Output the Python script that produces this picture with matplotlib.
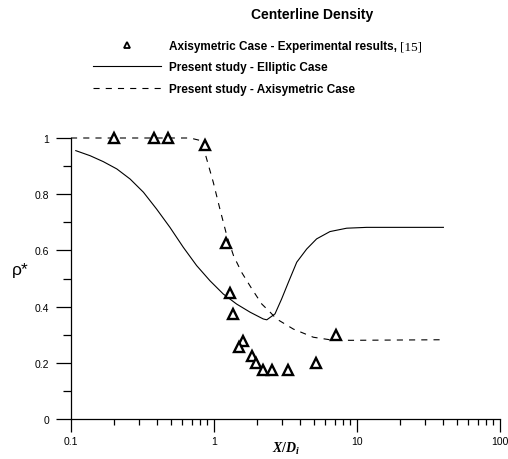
import numpy as np
import matplotlib
matplotlib.use('Agg')
import matplotlib.pyplot as plt
from matplotlib.lines import Line2D
from matplotlib.ticker import FixedLocator, FuncFormatter, LogLocator

plt.rcParams['font.family'] = ['Liberation Sans', 'DejaVu Sans']
plt.rcParams['mathtext.fontset'] = 'custom'
plt.rcParams['mathtext.it'] = 'Liberation Serif:italic:bold'
plt.rcParams['mathtext.rm'] = 'Liberation Serif:bold'

# experimental points (axisymmetric case, ref [15])
exp_x = [0.2, 0.38, 0.476, 0.865, 1.21, 1.29, 1.36, 1.60, 1.50, 1.85, 1.97, 2.2, 2.55, 3.29, 5.16, 7.13]
exp_y = [1.0, 1.0, 1.0, 0.975, 0.625, 0.45, 0.375, 0.278, 0.255, 0.225, 0.2, 0.175, 0.175, 0.175, 0.2, 0.3]

# present study - elliptic case
ell_x = [0.108, 0.136, 0.168, 0.209, 0.259, 0.321, 0.397, 0.492, 0.610, 0.756, 0.937,
         1.16, 1.44, 1.79, 2.21, 2.34, 2.67, 2.97, 3.31, 3.79, 4.45, 5.22, 6.47, 8.47,
         11.7, 40.2]
ell_y = [0.955, 0.937, 0.916, 0.890, 0.854, 0.807, 0.747, 0.682, 0.611, 0.546, 0.492,
         0.445, 0.409, 0.380, 0.356, 0.353, 0.374, 0.427, 0.486, 0.558, 0.605, 0.641,
         0.667, 0.679, 0.682, 0.682]

# present study - axisymmetric case
axi_x = [0.1, 0.3, 0.68, 0.82, 0.889, 0.989, 1.10, 1.23, 1.37, 1.56, 1.84, 2.16, 2.47,
         2.74, 3.59, 4.95, 6.47, 8.93, 38.0]
axi_y = [1.0, 1.0, 1.0, 0.990, 0.925, 0.842, 0.747, 0.652, 0.581, 0.522, 0.463, 0.409,
         0.380, 0.356, 0.320, 0.291, 0.282, 0.280, 0.282]

labels = ['Axisymetric Case - Experimental results,',
          'Present study - Elliptic Case',
          'Present study - Axisymetric Case']

W, H = 508, 460
fig = plt.figure(figsize=(W / 100, H / 100), dpi=100)
ax = fig.add_axes([71 / W, 1 - 420 / H, 429 / W, 281 / H])

ax.plot(ell_x, ell_y, color='black', lw=0.8, clip_on=False)
ax.plot(axi_x, axi_y, color='black', lw=0.8, dashes=(5.5, 5.5), clip_on=False)
ax.plot(exp_x, exp_y, ls='none', marker='^', ms=7.5, mfc='white', mec='black', mew=1.7,
        clip_on=False, zorder=5)

ax.set_xscale('log')
ax.set_xlim(0.1, 100)
ax.set_ylim(0, 1)
for s in ['top', 'right']:
    ax.spines[s].set_visible(False)
for s in ['left', 'bottom']:
    ax.spines[s].set_linewidth(0.9)

ax.xaxis.set_major_locator(FixedLocator([0.1, 1, 10, 100]))
ax.xaxis.set_minor_locator(LogLocator(base=10, subs=np.arange(2, 10)))
ax.xaxis.set_major_formatter(FuncFormatter(lambda v, p: '%g' % v))
ax.xaxis.set_minor_formatter(FuncFormatter(lambda v, p: ''))
ax.yaxis.set_major_locator(FixedLocator([0, 0.2, 0.4, 0.6, 0.8, 1.0]))
ax.yaxis.set_minor_locator(FixedLocator([0.1, 0.3, 0.5, 0.7, 0.9]))
ax.yaxis.set_major_formatter(FuncFormatter(lambda v, p: '%g' % v))

ax.tick_params(axis='x', which='major', direction='out', length=9.5, width=0.9, pad=3, labelsize=7.5)
ax.tick_params(axis='x', which='minor', direction='out', length=4.5, width=0.9)
ax.tick_params(axis='y', which='major', direction='out', length=10.5, width=0.9, pad=5, labelsize=7.5)
ax.tick_params(axis='y', which='minor', direction='out', length=5.5, width=0.9)

fig.text(286 / W, 1 - 449 / H, r'$X/D_i$', fontsize=10, ha='center', va='center')
fig.text(20 / W, 1 - 270 / H, 'ρ*', fontsize=12.5, ha='center', va='center')

fig.text(312 / W, 1 - 15 / H, 'Centerline Density', fontsize=10, fontweight='bold',
         ha='center', va='center')

handles = [Line2D([], [], ls='none', marker='^', ms=4, mfc='white', mec='black', mew=1.3),
           Line2D([], [], color='black', lw=0.8),
           Line2D([], [], color='black', lw=0.8, dashes=(5.5, 5.5))]
leg = fig.legend(handles, labels, loc='upper left', bbox_to_anchor=(93 / W, 1 - 41 / H),
                 frameon=False, borderpad=0, borderaxespad=0, handlelength=5.8,
                 handletextpad=0.6, labelspacing=0.8, prop={'weight': 'bold', 'size': 8.5})

fig.canvas.draw()
bb = leg.get_texts()[0].get_window_extent()
fig.text((bb.x1 + 3) / W, (bb.y0 + bb.y1) / 2 / H, '[15]', fontsize=9.5,
         family='Liberation Serif', ha='left', va='center')

fig.savefig('out.png', dpi=100)
